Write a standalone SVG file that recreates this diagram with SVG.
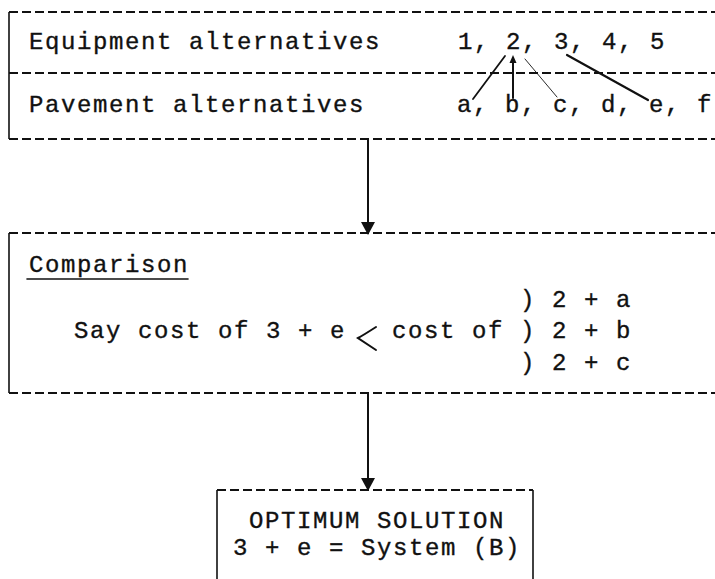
<svg xmlns="http://www.w3.org/2000/svg" width="715" height="579" viewBox="0 0 715 579">
<defs>
<style>
.t{font-family:"Liberation Mono","DejaVu Sans Mono",monospace;font-size:24px;letter-spacing:1.6px;fill:#111;stroke:#111;stroke-width:0.35}
.dash{stroke:#111;stroke-width:2;stroke-dasharray:9 4;fill:none}
.edge{stroke:#111;stroke-width:1.6;fill:none}
.ln{stroke:#111;fill:none;stroke-linecap:round}
.ah{fill:#111}
</style>
</defs>
<rect width="715" height="579" fill="#fff"/>
<g id="alternatives">
<line class="dash" x1="9" y1="12" x2="715" y2="12"/>
<line class="dash" x1="9" y1="73" x2="715" y2="73"/>
<line class="dash" x1="9" y1="139" x2="715" y2="139"/>
<line class="edge" x1="9" y1="12" x2="9" y2="139"/>
<text class="t" x="29" y="49">Equipment alternatives</text>
<text class="t" x="458" y="49">1, 2, 3, 4, 5</text>
<text class="t" x="29" y="112">Pavement alternatives</text>
<text class="t" x="457" y="112">a, b, c, d, e, f</text>
</g>
<g id="comparison">
<line class="dash" x1="9" y1="233" x2="715" y2="233"/>
<line class="dash" x1="9" y1="393" x2="715" y2="393"/>
<line class="edge" x1="9" y1="233" x2="9" y2="393"/>
<text class="t" x="29" y="272">Comparison</text>
<line class="ln" x1="27" y1="279" x2="188" y2="279" stroke-width="1.6"/>
<text class="t" x="520" y="307">)  2 + a</text>
<text class="t" x="74" y="338">Say cost of 3 + e</text>
<path class="ln" d="M376,327 Q362,336 358,338 Q364,342 376,350" stroke-width="2"/>
<text class="t" x="392" y="338">cost of )  2 + b</text>
<text class="t" x="520" y="370">)  2 + c</text>
</g>
<g id="optimum">
<line class="dash" x1="217" y1="490" x2="533" y2="490"/>
<line class="edge" x1="217" y1="490" x2="217" y2="579"/>
<line class="edge" x1="533" y1="490" x2="533" y2="579"/>
<text class="t" x="249" y="528">OPTIMUM SOLUTION</text>
<text class="t" x="233" y="555">3 + e = System (B)</text>
</g>
<g id="connectors">
<line class="ln" x1="505" y1="56" x2="473" y2="99" stroke-width="1.8"/>
<line class="ln" x1="513" y1="61" x2="513" y2="98" stroke-width="2"/>
<path class="ah" d="M513,55 L509.5,63 L516.5,63 Z"/>
<line class="ln" x1="525" y1="59" x2="557" y2="97" stroke-width="0.9"/>
<line class="ln" x1="567" y1="55" x2="648" y2="100" stroke-width="2.2"/>
<line class="ln" x1="368" y1="139" x2="368" y2="224" stroke-width="2"/>
<path class="ah" d="M368,235 L361,222 L375,222 Z"/>
<line class="ln" x1="368" y1="393" x2="368" y2="480" stroke-width="2"/>
<path class="ah" d="M368,491 L361,478 L375,478 Z"/>
</g>
</svg>
